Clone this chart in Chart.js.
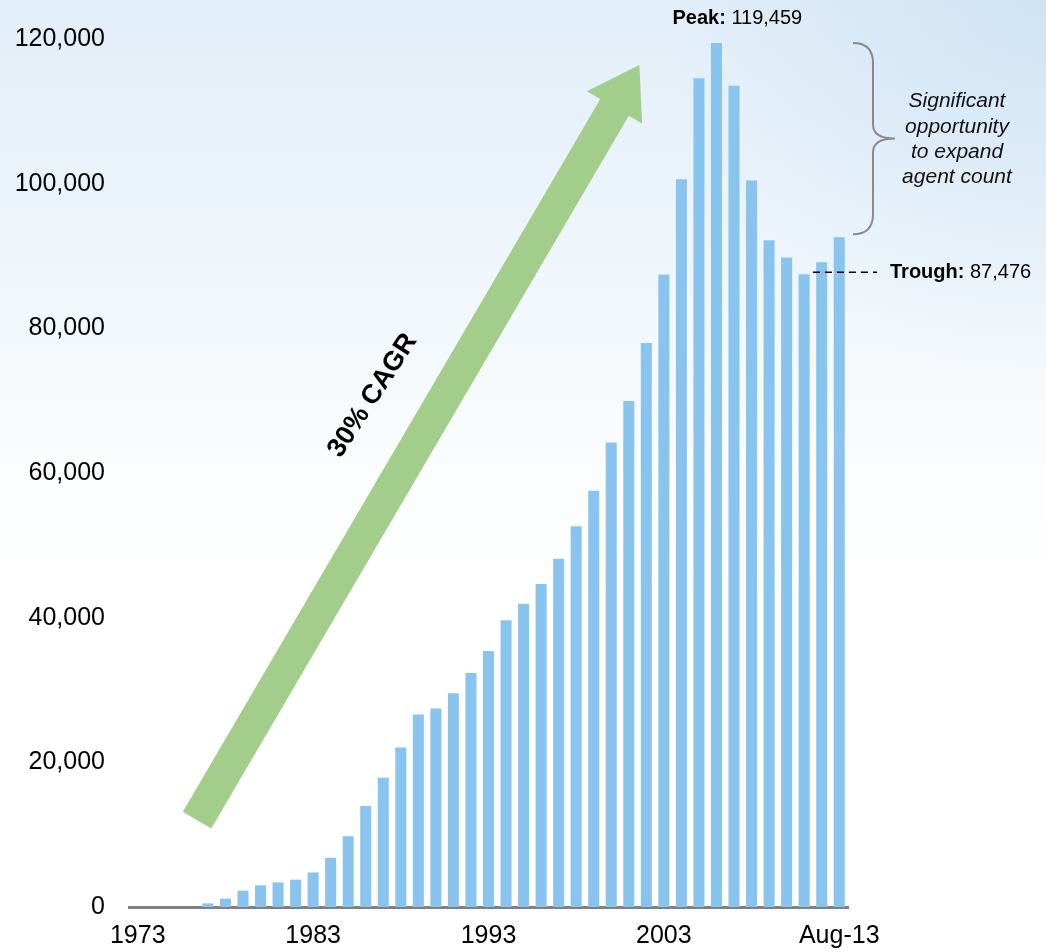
<!DOCTYPE html>
<html>
<head>
<meta charset="utf-8">
<script src="https://cdn.jsdelivr.net/npm/chart.js@4.4.1/dist/chart.umd.min.js"></script>
<style>
  html, body { margin: 0; padding: 0; background: #ffffff; }
  #wrap { width: 1046px; height: 952px; position: relative; }
</style>
</head>
<body>
<div id="wrap"><canvas id="myChart"></canvas></div>
<script>
/* global Chart */

// categories: one bar per year, last one is Aug-13
const years = [
  "1973", "1974", "1975", "1976", "1977", "1978", "1979", "1980", "1981", "1982",
  "1983", "1984", "1985", "1986", "1987", "1988", "1989", "1990", "1991", "1992",
  "1993", "1994", "1995", "1996", "1997", "1998", "1999", "2000", "2001", "2002",
  "2003", "2004", "2005", "2006", "2007", "2008", "2009", "2010", "2011", "2012",
  "Aug-13",
];

// agent count per year
const agents = [
  0, 0, 0, 0, 500, 1160, 2260, 2990, 3400, 3780,
  4780, 6800, 9780, 13970, 17870, 22050, 26600, 27450, 29550, 32350,
  35400, 39640, 41930, 44640, 48130, 52630, 57550, 64200, 69950, 77980,
  87450, 100620, 114590, 119459, 113530, 100440, 92170, 89790, 87476, 89140,
  92590,
];

// only these x labels are shown
const shownYears = ["1973", "1983", "1993", "2003", "Aug-13"];
const yTicks = [0, 20000, 40000, 60000, 80000, 100000, 120000];

// annotation texts
const peakLabel = ["Peak:", "119,459"];
const troughLabel = ["Trough:", "87,476"];
const cagrText = "30% CAGR";
const braceText = ["Significant", "opportunity", "to expand", "agent count"];

const peakIndex = agents.indexOf(Math.max(...agents));
const troughIndex = 38;

// sky-ish background
const skyBackground = {
  id: "skyBackground",
  beforeDraw(chart) {
    const ctx = chart.ctx;
    const w = chart.width, h = chart.height;
    ctx.save();
    let g = ctx.createLinearGradient(0, 0, 0, h);
    g.addColorStop(0, "#e2eef8");
    g.addColorStop(0.15, "#e9f2fa");
    g.addColorStop(0.35, "#f3f8fc");
    g.addColorStop(0.5, "#fbfdfe");
    g.addColorStop(0.62, "#ffffff");
    g.addColorStop(1, "#ffffff");
    ctx.fillStyle = g;
    ctx.fillRect(0, 0, w, h);
    let r = ctx.createRadialGradient(w, 0, 0, w, 0, 380);
    r.addColorStop(0, "rgba(185,215,240,0.45)");
    r.addColorStop(1, "rgba(185,215,240,0)");
    ctx.fillStyle = r;
    ctx.fillRect(0, 0, w, h);
    ctx.restore();
  },
};

// arrow, peak/trough labels and brace
const annotations = {
  id: "annotations",
  afterDatasetsDraw(chart) {
    const ctx = chart.ctx;
    const x = chart.scales.x;
    const y = chart.scales.y;

    // green arrow
    const tx = x.getPixelForValue(3.38), ty = y.getPixelForValue(12000);
    const hx = x.getPixelForValue(28.6), hy = y.getPixelForValue(116400);
    const ang = Math.atan2(hy - ty, hx - tx);
    const len = Math.hypot(hx - tx, hy - ty);
    const shaft = 33, headW = 64, headL = 49;
    ctx.save();
    ctx.translate(tx, ty);
    ctx.rotate(ang);
    ctx.fillStyle = "#a3cd8a";
    ctx.beginPath();
    ctx.moveTo(0, -shaft / 2);
    ctx.lineTo(len - headL, -shaft / 2);
    ctx.lineTo(len - headL, -headW / 2);
    ctx.lineTo(len, 0);
    ctx.lineTo(len - headL, headW / 2);
    ctx.lineTo(len - headL, shaft / 2);
    ctx.lineTo(0, shaft / 2);
    ctx.closePath();
    ctx.fill();
    ctx.restore();

    // CAGR text
    ctx.save();
    ctx.translate(x.getPixelForValue(13.4), y.getPixelForValue(70700));
    ctx.rotate(-57 * Math.PI / 180);
    ctx.fillStyle = "#000000";
    ctx.font = "bold 27px 'Liberation Sans', Arial, sans-serif";
    ctx.textAlign = "center";
    ctx.textBaseline = "middle";
    ctx.fillText(cagrText, 0, 0);
    ctx.restore();

    // peak label
    ctx.save();
    ctx.font = "bold 20px 'Liberation Sans', Arial, sans-serif";
    ctx.fillStyle = "#000000";
    ctx.textBaseline = "middle";
    let px = x.getPixelForValue(peakIndex) - 44;
    ctx.fillText(peakLabel[0] + " ", px, 18);
    px += ctx.measureText(peakLabel[0] + " ").width;
    ctx.font = "20px 'Liberation Sans', Arial, sans-serif";
    ctx.fillText(peakLabel[1], px, 18);
    ctx.restore();

    // trough dashed line + label
    const tyy = y.getPixelForValue(agents[troughIndex]) - 2;
    ctx.save();
    ctx.strokeStyle = "#000000";
    ctx.lineWidth = 1.5;
    ctx.setLineDash([7, 5]);
    ctx.beginPath();
    ctx.moveTo(x.getPixelForValue(troughIndex + 0.5), tyy);
    ctx.lineTo(877, tyy);
    ctx.stroke();
    ctx.setLineDash([]);
    ctx.font = "bold 20px 'Liberation Sans', Arial, sans-serif";
    ctx.fillStyle = "#000000";
    ctx.textBaseline = "middle";
    let qx = 890;
    ctx.fillText(troughLabel[0] + " ", qx, tyy);
    qx += ctx.measureText(troughLabel[0] + " ").width;
    ctx.font = "20px 'Liberation Sans', Arial, sans-serif";
    ctx.fillText(troughLabel[1], qx, tyy);
    ctx.restore();

    // brace from peak level down to latest value
    const bTop = y.getPixelForValue(agents[peakIndex]);
    const bBot = y.getPixelForValue(agents[agents.length - 1]) - 3;
    const bMid = (bTop + bBot) / 2;
    const bx0 = 853, bx1 = 873, bx2 = 895;
    ctx.save();
    ctx.strokeStyle = "#8a8a8a";
    ctx.lineWidth = 2;
    ctx.beginPath();
    ctx.moveTo(bx0, bTop);
    ctx.quadraticCurveTo(bx1, bTop, bx1, bTop + 20);
    ctx.lineTo(bx1, bMid - 14);
    ctx.quadraticCurveTo(bx1, bMid, bx2, bMid);
    ctx.quadraticCurveTo(bx1, bMid, bx1, bMid + 14);
    ctx.lineTo(bx1, bBot - 20);
    ctx.quadraticCurveTo(bx1, bBot, bx0, bBot);
    ctx.stroke();
    ctx.fillStyle = "#111111";
    ctx.font = "italic 21px 'Liberation Sans', Arial, sans-serif";
    ctx.textAlign = "center";
    ctx.textBaseline = "middle";
    braceText.forEach(function (line, i) {
      ctx.fillText(line, 957, bMid - 37 + i * 25.3);
    });
    ctx.restore();
  },
};

const ctx = document.getElementById("myChart").getContext("2d");
const myChart = new Chart(ctx, {
  type: "bar",
  data: {
    labels: years,
    datasets: [
      {
        label: "Agents",
        data: agents,
        backgroundColor: "#89c4ee",
        borderWidth: 0,
        barPercentage: 0.63,
        categoryPercentage: 1.0,
      },
    ],
  },
  options: {
    responsive: true,
    maintainAspectRatio: false,
    animation: false,
    layout: {
      padding: { top: 36, right: 198, bottom: 0, left: 0 },
    },
    plugins: {
      legend: { display: false },
      tooltip: { enabled: false },
    },
    scales: {
      x: {
        grid: { display: false, drawTicks: false },
        border: { display: true, color: "#808080", width: 3 },
        afterFit: function (scale) {
          scale.height = 45;
        },
        ticks: {
          autoSkip: false,
          maxRotation: 0,
          padding: 14,
          color: "#000000",
          font: { family: "'Liberation Sans', Arial, sans-serif", size: 25 },
          callback: function (value) {
            const lab = years[value];
            return shownYears.includes(lab) ? lab : null;
          },
        },
      },
      y: {
        min: 0,
        max: 120000,
        afterFit: function (scale) {
          scale.width = 129;
        },
        afterBuildTicks: function (scale) {
          scale.ticks = yTicks.map(function (v) {
            return { value: v };
          });
        },
        grid: { display: false, drawTicks: false },
        border: { display: false },
        ticks: {
          padding: 24,
          color: "#000000",
          font: { family: "'Liberation Sans', Arial, sans-serif", size: 25 },
          callback: function (value) {
            return value.toLocaleString("en-US");
          },
        },
      },
    },
  },
  plugins: [skyBackground, annotations],
});
</script>
</body>
</html>
